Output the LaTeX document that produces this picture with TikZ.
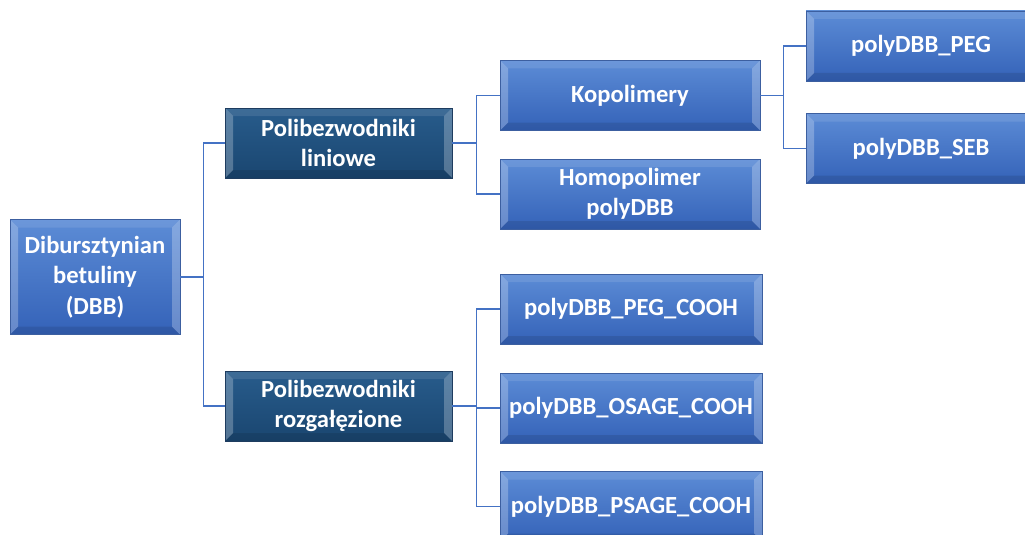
\documentclass[tikz,border=0pt]{standalone}
\usepackage{fontspec}
\setmainfont{Carlito}
\begin{document}
\begin{tikzpicture}[x=1pt,y=-1pt]
\definecolor{btop}{RGB}{92,140,214}
\definecolor{bbot}{RGB}{52,98,184}
\definecolor{bedge}{RGB}{60,95,160}
\definecolor{dtop}{RGB}{40,92,140}
\definecolor{dbot}{RGB}{26,70,112}
\definecolor{dedge}{RGB}{30,60,95}
\definecolor{conncol}{RGB}{68,114,196}
\tikzset{
  bevel/.style={path picture={
    \fill[white,opacity=0.25] (path picture bounding box.north west) -- ([xshift=8pt,yshift=-8pt]path picture bounding box.north west) -- ([xshift=8pt,yshift=8pt]path picture bounding box.south west) -- (path picture bounding box.south west) -- cycle;
    \fill[white,opacity=0.25] (path picture bounding box.north east) -- ([xshift=-8pt,yshift=-8pt]path picture bounding box.north east) -- ([xshift=-8pt,yshift=8pt]path picture bounding box.south east) -- (path picture bounding box.south east) -- cycle;
    \fill[white,opacity=0.10] (path picture bounding box.north west) -- ([xshift=8pt,yshift=-8pt]path picture bounding box.north west) -- ([xshift=-8pt,yshift=-8pt]path picture bounding box.north east) -- (path picture bounding box.north east) -- cycle;
    \fill[black,opacity=0.10] (path picture bounding box.south west) -- ([xshift=8pt,yshift=8pt]path picture bounding box.south west) -- ([xshift=-8pt,yshift=8pt]path picture bounding box.south east) -- (path picture bounding box.south east) -- cycle;
  }},
  box/.style={rectangle, inner sep=0pt, align=center, text=white,
    font=\fontsize{24.6}{30.5}\selectfont\bfseries, top color=btop, bottom color=bbot,
    draw=bedge, line width=0.8pt, minimum height=70pt, bevel},
  dbox/.style={box, top color=dtop, bottom color=dbot, draw=dedge},
  conn/.style={draw=conncol, line width=1.4pt}
}
\useasboundingbox (0,0) rectangle (1025,535);
\node[box, minimum width=170pt, minimum height=115pt] (dbb) at (95,277) {Dibursztynian\\betuliny\\(DBB)};
\node[dbox, minimum width=227pt] (lin) at (338.5,143) {Polibezwodniki\\liniowe};
\node[dbox, minimum width=227pt] (roz) at (338.5,406) {Polibezwodniki\\rozgałęzione};
\node[box, minimum width=260pt] (kop) at (630,95.5) {Kopolimery};
\node[box, minimum width=260pt] (homo) at (630,194) {Homopolimer\\polyDBB};
\node[box, minimum width=230pt] (peg) at (921,46) {polyDBB\_PEG};
\node[box, minimum width=230pt] (seb) at (921,148.5) {polyDBB\_SEB};
\node[box, minimum width=262pt] (pegc) at (631,309) {polyDBB\_PEG\_COOH};
\node[box, minimum width=262pt] (osage) at (631,408) {polyDBB\_OSAGE\_COOH};
\node[box, minimum width=262pt] (psage) at (631,506.5) {polyDBB\_PSAGE\_COOH};
\draw[conn] (dbb.east) -- ++(23,0) |- (lin.west);
\draw[conn] (dbb.east) -- ++(23,0) |- (roz.west);
\draw[conn] (lin.east) -- ++(24,0) |- (kop.west);
\draw[conn] (lin.east) -- ++(24,0) |- (homo.west);
\draw[conn] (roz.east) -- ++(24,0) |- (pegc.west);
\draw[conn] (roz.east) -- ++(24,0) |- (osage.west);
\draw[conn] (roz.east) -- ++(24,0) |- (psage.west);
\draw[conn] (kop.east) -- ++(23,0) |- (peg.west);
\draw[conn] (kop.east) -- ++(23,0) |- (seb.west);
\end{tikzpicture}
\end{document}
